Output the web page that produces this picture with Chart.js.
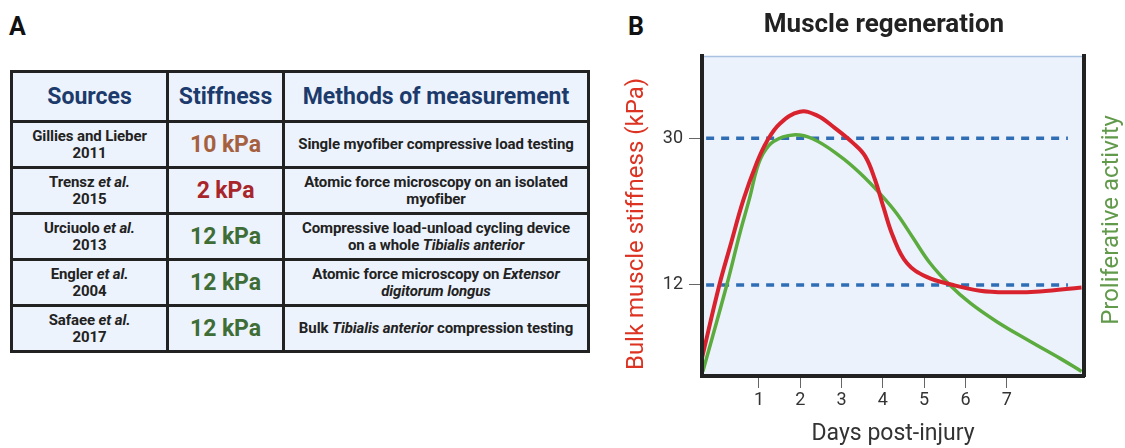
<!DOCTYPE html>
<html>
<head>
<meta charset="utf-8">
<script src="https://cdn.jsdelivr.net/npm/chart.js@4.4.0/dist/chart.umd.min.js"></script>
<style>
  html, body { margin: 0; padding: 0; background: #fff; }
  body { width: 1125px; height: 448px; overflow: hidden; position: relative; font-family: Roboto, 'Noto Sans', sans-serif; }
  .panel-label { position: absolute; font-weight: bold; font-size: 25px; color: #111; line-height: 1; }
  #tbl { position: absolute; left: 10px; top: 70px; border-collapse: collapse; table-layout: fixed; background: #edf3fc; }
  #tbl th, #tbl td { border: 3px solid #222; text-align: center; padding: 0; }
  #tbl th { height: 47px; color: #1c3b6c; font-size: 23px; font-weight: bold; }
  #tbl td { height: 43px; font-size: 15px; font-weight: bold; color: #222; line-height: 17px; letter-spacing: -0.1px; }
  #tbl td.kpa { font-size: 23px; }
  #chartBox { position: absolute; left: 620px; top: 0; width: 528px; height: 448px; }
</style>
</head>
<body>
<div class="panel-label" style="left:9px; top:14px;">A</div>
<div class="panel-label" style="left:628px; top:14px;">B</div>

<table id="tbl">
  <colgroup><col style="width:156px"><col style="width:116px"><col style="width:305px"></colgroup>
  <thead><tr><th>Sources</th><th>Stiffness</th><th>Methods of measurement</th></tr></thead>
  <tbody id="tblBody"></tbody>
</table>

<div id="chartBox"><canvas id="regenChart" width="528" height="448"></canvas></div>

<script>
// Panel A table
const sources = ['Gillies and Lieber<br>2011', 'Trensz <i>et al.</i><br>2015', 'Urciuolo <i>et al.</i><br>2013',
  'Engler <i>et al.</i><br>2004', 'Safaee <i>et al.</i><br>2017'];
const stiffnessKPa = [10, 2, 12, 12, 12];
const methods = [
  'Single myofiber compressive load testing',
  'Atomic force microscopy on an isolated<br>myofiber',
  'Compressive load-unload cycling device<br>on a whole <i>Tibialis anterior</i>',
  'Atomic force microscopy on <i>Extensor<br>digitorum longus</i>',
  'Bulk <i>Tibialis anterior</i> compression testing'
];
const kpaColors = ['#a5613f', '#a8262b', '#3e6d36', '#3e6d36', '#3e6d36'];

const body = document.getElementById('tblBody');
sources.forEach((src, i) => {
  const tr = document.createElement('tr');
  tr.innerHTML = '<td>' + src + '</td>' +
    '<td class="kpa" style="color:' + kpaColors[i] + '">' + stiffnessKPa[i] + ' kPa</td>' +
    '<td>' + methods[i] + '</td>';
  body.appendChild(tr);
});

// Panel B chart data
const stiffDays = [-0.38, 0.04, 0.30, 0.62, 0.94, 1.19, 1.51, 1.99, 2.40, 2.80, 3.28, 3.57, 3.81, 4.01, 4.25, 4.58, 5.06, 5.70, 6.35, 7.00, 7.80, 8.81];
const stiffValues = [3.05, 12.0, 16.7, 22.4, 26.9, 29.6, 31.8, 33.25, 32.8, 31.4, 29.4, 27.8, 24.9, 21.6, 17.9, 14.7, 13.0, 12.0, 11.3, 11.1, 11.2, 11.7];
const prolifDays = [-0.36, 0.22, 0.54, 0.78, 0.94, 1.10, 1.35, 1.83, 2.31, 2.96, 3.45, 3.93, 4.33, 4.74, 5.14, 5.62, 6.11, 6.76, 7.56, 8.29, 8.81];
const prolifValues = [1.4, 12.0, 18.4, 22.8, 26.1, 28.1, 29.6, 30.4, 29.9, 27.8, 25.7, 23.2, 20.8, 17.7, 14.7, 12.0, 9.8, 7.5, 5.1, 3.0, 1.4];
const refLevels = [30, 12];
const refSpan = [-0.28, 8.48];
const dayTicks = [1, 2, 3, 4, 5, 6, 7];
const kpaTicks = [12, 30];

const toPoints = (xs, ys) => xs.map((x, i) => ({ x: x, y: ys[i] }));

// light blue plot background with a thin top edge
const plotBackground = {
  id: 'plotBackground',
  beforeDraw(chart) {
    const { ctx, chartArea: a } = chart;
    ctx.save();
    ctx.fillStyle = '#ecf2fb';
    ctx.fillRect(a.left, a.top, a.right - a.left, a.bottom - a.top);
    ctx.strokeStyle = '#a9c2e2';
    ctx.lineWidth = 1.5;
    ctx.beginPath();
    ctx.moveTo(a.left, a.top + 0.5);
    ctx.lineTo(a.right, a.top + 0.5);
    ctx.stroke();
    ctx.restore();
  }
};

// both vertical titles read bottom-to-top and sit a bit below the plot centre
function drawVerticalTitle(ctx, text, x, y, color) {
  ctx.save();
  ctx.translate(x, y);
  ctx.rotate(-Math.PI / 2);
  ctx.font = '24px Roboto';
  ctx.fillStyle = color;
  ctx.textAlign = 'center';
  ctx.textBaseline = 'middle';
  ctx.fillText(text, 0, 0);
  ctx.restore();
}

const axisTitles = {
  id: 'axisTitles',
  afterDraw(chart) {
    const { ctx, chartArea: a } = chart;
    const mid = (a.top + a.bottom) / 2;
    drawVerticalTitle(ctx, 'Bulk muscle stiffness (kPa)', chart.scales.y.left + 17, mid + 8, '#dd3322');
    drawVerticalTitle(ctx, 'Proliferative activity', chart.scales.y2.left + 28, mid + 4, '#629a4b');
  }
};

const datasets = refLevels.map(level => ({
  data: toPoints(refSpan, [level, level]),
  borderColor: '#2f6db5',
  borderWidth: 3.5,
  borderDash: [8, 7],
  pointRadius: 0,
  order: 3
}));
datasets.push({
  data: toPoints(prolifDays, prolifValues),
  borderColor: '#5cab3f',
  borderWidth: 3.5,
  pointRadius: 0,
  tension: 0.4,
  order: 2
});
datasets.push({
  data: toPoints(stiffDays, stiffValues),
  borderColor: '#d8232e',
  borderWidth: 4,
  pointRadius: 0,
  tension: 0.4,
  order: 1
});

new Chart(document.getElementById('regenChart').getContext('2d'), {
  type: 'line',
  data: { datasets: datasets },
  plugins: [plotBackground, axisTitles],
  options: {
    responsive: false,
    animation: false,
    layout: { padding: 0 },
    plugins: {
      legend: { display: false },
      tooltip: { enabled: false },
      title: {
        display: true,
        text: 'Muscle regeneration',
        color: '#222',
        font: { family: 'Roboto', size: 26, weight: 'bold' },
        padding: { top: 10, bottom: 14.8 }
      }
    },
    scales: {
      x: {
        type: 'linear',
        min: -0.38,
        max: 8.87,
        afterBuildTicks: (scale) => { scale.ticks = dayTicks.map(v => ({ value: v })); },
        afterFit: (scale) => { scale.height = 72; },
        ticks: { color: '#333', font: { family: 'Roboto', size: 18 }, padding: 2 },
        grid: { drawOnChartArea: false, tickLength: 12, color: '#666', lineWidth: 1 },
        border: { width: 4, color: '#222', z: 1 },
        title: { display: true, text: 'Days post-injury', color: '#333', font: { family: 'Roboto', size: 23 }, padding: 0 }
      },
      y: {
        min: 0.84,
        max: 40.08,
        afterBuildTicks: (scale) => { scale.ticks = kpaTicks.map(v => ({ value: v })); },
        afterFit: (scale) => { scale.width = 82; },
        ticks: { color: '#333', font: { family: 'Roboto', size: 18 }, padding: 6 },
        grid: { drawOnChartArea: false, tickLength: 13, color: '#666', lineWidth: 1 },
        border: { width: 4, color: '#222', z: 1 }
      },
      y2: {
        position: 'right',
        afterFit: (scale) => { scale.width = 64; },
        ticks: { display: false },
        grid: { display: false },
        border: { width: 4, color: '#222', z: 1 }
      }
    }
  }
});
</script>
</body>
</html>
